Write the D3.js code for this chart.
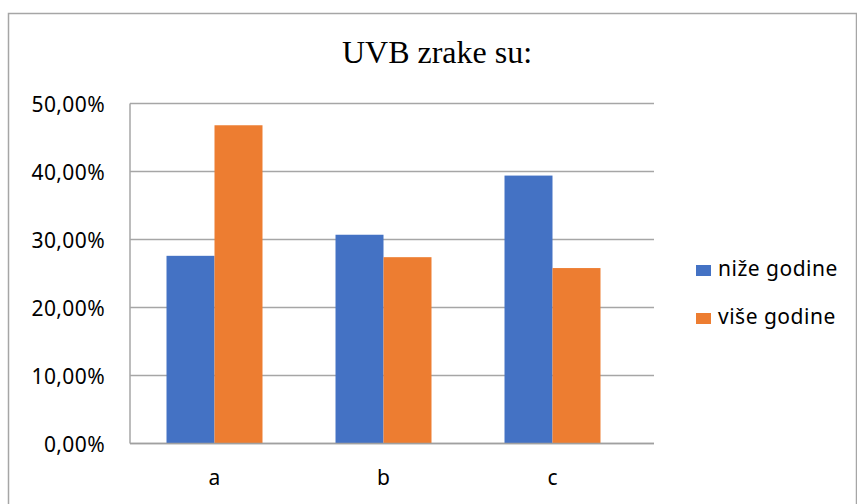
<!DOCTYPE html>
<html>
<head>
<meta charset="utf-8">
<script src="https://cdnjs.cloudflare.com/ajax/libs/d3/7.8.5/d3.min.js"></script>
<style>
  body { margin: 0; background: #fff; }
  text { font-family: "Noto Sans", sans-serif; fill: #000; }
</style>
</head>
<body>
<div id="chart"></div>
<script>
var categories = ["a", "b", "c"];
var seriesNames = ["niže godine", "više godine"];
var nizeGodine = [0.276, 0.307, 0.394];
var viseGodine = [0.468, 0.274, 0.258];
var yTicks = [0, 0.1, 0.2, 0.3, 0.4, 0.5];
var colors = ["#4472C4", "#ED7D31"];

var width = 857, height = 504;

var svg = d3.select("#chart")
    .append("svg")
    .attr("width", width)
    .attr("height", height);

// chart frame
svg.append("rect")
    .attr("x", 8.5).attr("y", 13.5)
    .attr("width", 848).attr("height", 500)
    .attr("fill", "none")
    .attr("stroke", "#a6a6a6")
    .attr("stroke-width", 1.5);

svg.append("text")
    .attr("x", 437)
    .attr("y", 63)
    .attr("text-anchor", "middle")
    .style("font-family", "'Liberation Serif', 'Times New Roman', serif")
    .style("font-size", "32px")
    .text("UVB zrake su:");

var xScale = d3.scaleBand()
    .domain(categories)
    .range([130, 637])
    .paddingInner(0.432)
    .paddingOuter(0.216);

var xSub = d3.scaleBand()
    .domain(seriesNames)
    .range([0, xScale.bandwidth()]);

var yScale = d3.scaleLinear()
    .domain([0, 0.5])
    .range([443.5, 103.5]);

var fmt = function(d) { return d3.format(".2f")(d * 100).replace(".", ",") + "%"; };

// gridlines
svg.append("g")
    .selectAll("line")
    .data(yTicks)
    .enter()
    .append("line")
    .attr("x1", 130).attr("x2", 654)
    .attr("y1", function(d) { return yScale(d); })
    .attr("y2", function(d) { return yScale(d); })
    .attr("stroke", "#a6a6a6")
    .attr("stroke-width", 1.5);

// left axis line
svg.append("line")
    .attr("x1", 130).attr("x2", 130)
    .attr("y1", yScale(0.5)).attr("y2", yScale(0))
    .attr("stroke", "#a6a6a6")
    .attr("stroke-width", 1.5);

// y tick labels
svg.append("g")
    .selectAll("text")
    .data(yTicks)
    .enter()
    .append("text")
    .attr("x", 105)
    .attr("y", function(d) { return yScale(d) + 8; })
    .attr("text-anchor", "end")
    .style("font-size", "21px")
    .style("letter-spacing", "0.4px")
    .text(fmt);

// bars
var table = categories.map(function(c, i) {
    return { cat: c, values: [nizeGodine[i], viseGodine[i]] };
});

var groups = svg.append("g")
    .selectAll("g")
    .data(table)
    .enter()
    .append("g")
    .attr("transform", function(d) { return "translate(" + xScale(d.cat) + ",0)"; });

groups.selectAll("rect")
    .data(function(d) { return d.values.map(function(v, j) { return { name: seriesNames[j], v: v, j: j }; }); })
    .enter()
    .append("rect")
    .attr("x", function(d) { return xSub(d.name); })
    .attr("y", function(d) { return yScale(d.v); })
    .attr("width", xSub.bandwidth())
    .attr("height", function(d) { return yScale(0) - yScale(d.v); })
    .attr("fill", function(d) { return colors[d.j]; });

// baseline on top of bars
svg.append("line")
    .attr("x1", 130).attr("x2", 654)
    .attr("y1", yScale(0)).attr("y2", yScale(0))
    .attr("stroke", "#a0a0a0")
    .attr("stroke-width", 1.5);

// category labels
svg.append("g")
    .selectAll("text")
    .data(categories)
    .enter()
    .append("text")
    .attr("x", function(d) { return xScale(d) + xScale.bandwidth() / 2; })
    .attr("y", 485)
    .attr("text-anchor", "middle")
    .style("font-size", "21px")
    .text(function(d) { return d; });

// legend
var legend = svg.append("g")
    .selectAll("g")
    .data(seriesNames)
    .enter()
    .append("g")
    .attr("transform", function(d, i) { return "translate(696," + (276 + i * 48) + ")"; });

legend.append("rect")
    .attr("x", 0).attr("y", -11)
    .attr("width", 15).attr("height", 11)
    .attr("fill", function(d, i) { return colors[i]; });

legend.append("text")
    .attr("x", 22)
    .attr("y", 0)
    .style("font-size", "21px")
    .style("letter-spacing", "0.5px")
    .text(function(d) { return d; });
</script>
</body>
</html>
